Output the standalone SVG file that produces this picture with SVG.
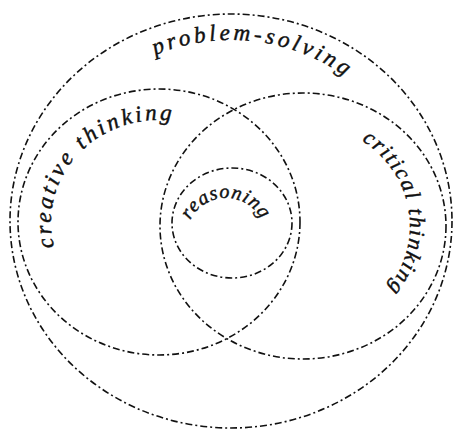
<svg xmlns="http://www.w3.org/2000/svg" width="455" height="430" viewBox="0 0 455 430">
<style>
.c{fill:none;stroke:#111;stroke-width:1.6;stroke-dasharray:7 3 2 3}
.t{font-family:"Liberation Serif","DejaVu Serif",serif;font-style:italic;fill:#111;stroke:#111;stroke-width:0.45}
</style>
<defs>
<path id="pOuter" d="M41,221 A190,181 0 0 1 421,221"/>
<path id="pLeft" d="M159,324 A108,102 0 0 1 51,222 A108,102 0 0 1 159,120 A108,102 0 0 1 267,222"/>
<path id="pRight" d="M303,124 A107,102 0 0 1 410,226 A107,102 0 0 1 303,328"/>
<path id="pReason" d="M186,238 A40,40 0 0 1 266,238"/>
</defs>
<rect width="455" height="430" fill="#fff"/>
<g id="connectors"></g>
<g id="problem-solving">
<ellipse class="c" cx="231" cy="221" rx="221" ry="207"/>
<text class="t" font-size="23" letter-spacing="3.5" text-anchor="middle"><textPath href="#pOuter" startOffset="54%">problem-solving</textPath></text>
</g>
<g id="creative-thinking">
<ellipse class="c" cx="159" cy="222" rx="141" ry="133"/>
<text class="t" font-size="23" letter-spacing="3" text-anchor="middle"><textPath href="#pLeft" startOffset="49%">creative thinking</textPath></text>
</g>
<g id="critical-thinking">
<ellipse class="c" cx="303" cy="226" rx="143" ry="133"/>
<text class="t" font-size="22" letter-spacing="1.8" text-anchor="middle"><textPath href="#pRight" startOffset="45%">critical thinking</textPath></text>
</g>
<g id="reasoning">
<ellipse class="c" cx="232" cy="223" rx="60" ry="55"/>
<text class="t" font-size="20" letter-spacing="1" text-anchor="middle"><textPath href="#pReason" startOffset="50%">reasoning</textPath></text>
</g>
</svg>
